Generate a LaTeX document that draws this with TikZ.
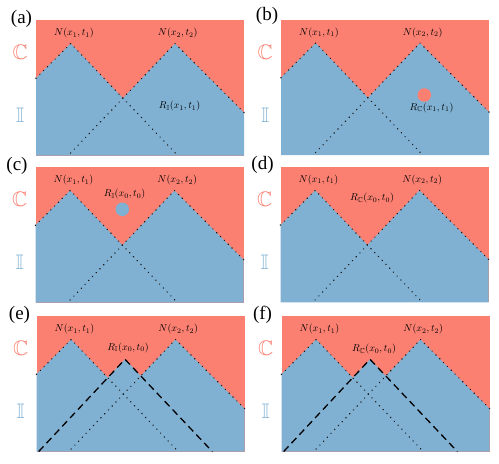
\documentclass[tikz,border=0pt]{standalone}
\usepackage{amssymb}
\usepackage{fontspec}
\newfontfamily\labfont{Liberation Serif}
\definecolor{cred}{HTML}{FB8072}
\definecolor{cblue}{HTML}{80B1D3}
\tikzset{
  dotline/.style={line width=1.6pt, dash pattern=on 0.01pt off 5.4pt, line cap=round, black!90},
  dashline/.style={line width=1.3pt, dash pattern=on 7pt off 4.5pt, black},
  mlab/.style={inner sep=0pt, font=\fontsize{10.3}{12}\selectfont},
  plab/.style={inner sep=0pt, font=\labfont\fontsize{19}{20}\selectfont},
  setC/.style={inner sep=0pt, text=cred, font=\fontsize{21}{22}\selectfont},
  setI/.style={inner sep=0pt, text=cblue, font=\fontsize{21}{22}\selectfont},
  spot/.style={circle, inner sep=0pt, minimum size=13.5pt},
}
\newcommand\panelbase[1]{%
  \coordinate (#1TL) at (0,0);
  \coordinate (#1BR) at (208,135.5);
  \coordinate (#1BL) at (0,135.5);
  \coordinate (#1P1) at (34.7,23.5);
  \coordinate (#1P2) at (139,23.5);
  \coordinate (#1L) at (0,58.2);
  \coordinate (#1R) at (208,92.5);
  \coordinate (#1B1) at (141.7,135.5);
  \coordinate (#1B2) at (32.3,135.5);
  \coordinate (#1V) at (intersection of #1P1--#1B1 and #1P2--#1B2);
  \fill[cred] (#1TL) rectangle (#1BR);
  \node[setC] (#1setC) at (-15.7,32.7) {$\mathbb{C}$};
  \node[setI] (#1setI) at (-15.7,95.5) {$\mathbb{I}$};
  \node[mlab] (#1N1) at (38,13) {$N(x_1,t_1)$};
  \node[mlab] (#1N2) at (141.7,13) {$N(x_2,t_2)$};
}
\newcommand\twocones[1]{%
  \fill[cblue] (#1L)--(#1P1)--(#1V)--(#1P2)--(#1R)--(#1BR)--(#1BL)--cycle;
  \draw[dotline] (#1L)--(#1P1)--(#1B1);
  \draw[dotline] (#1R)--(#1P2)--(#1B2);
}
\newcommand\threecones[1]{%
  \coordinate (#1P3) at (88.5,43.3);
  \coordinate (#1D1) at (2.2,135.5);
  \coordinate (#1D2) at (175.8,135.5);
  \coordinate (#1A) at (intersection of #1P1--#1B1 and #1D1--#1P3);
  \coordinate (#1C) at (intersection of #1P2--#1B2 and #1D2--#1P3);
  \fill[cblue] (#1L)--(#1P1)--(#1A)--(#1P3)--(#1C)--(#1P2)--(#1R)--(#1BR)--(#1BL)--cycle;
  \draw[dotline] (#1L)--(#1P1)--(#1B1);
  \draw[dotline] (#1R)--(#1P2)--(#1B2);
  \draw[dashline] (#1D1)--(#1P3)--(#1D2);
}
\begin{document}
\begin{tikzpicture}[x=1pt,y=-1pt]
\useasboundingbox (0,0) rectangle (499,464);
% (a)
\begin{scope}[shift={(36,20)}]
  \panelbase{a}
  \twocones{a}
  \node[plab] (alab) at (-14.5,-1.5) {(a)};
  \node[mlab] (aR) at (143.6,86) {$R_{\mathbb{I}}(x_1,t_1)$};
\end{scope}
% (b)
\begin{scope}[shift={(281,19.5)}]
  \panelbase{b}
  \twocones{b}
  \node[plab] (blab) at (-14,-4) {(b)};
  \node[spot, fill=cred] (bdot) at (143.3,75.5) {};
  \node[mlab] (bR) at (150.5,88) {$R_{\mathbb{C}}(x_1,t_1)$};
\end{scope}
% (c)
\begin{scope}[shift={(35.5,167)}]
  \panelbase{c}
  \twocones{c}
  \node[plab] (clab) at (-18.5,-1) {(c)};
  \node[mlab] (cR) at (89,27.3) {$R_{\mathbb{I}}(x_0,t_0)$};
  \node[spot, fill=cblue] (cdot) at (86.8,42.3) {};
\end{scope}
% (d)
\begin{scope}[shift={(280.5,166.8)}]
  \panelbase{d}
  \twocones{d}
  \node[plab] (dlab) at (-18,-2) {(d)};
  \node[mlab] (dR) at (91.5,31.3) {$R_{\mathbb{C}}(x_0,t_0)$};
\end{scope}
% (e)
\begin{scope}[shift={(36.5,316)}]
  \panelbase{e}
  \threecones{e}
  \node[plab] (elab) at (-17,-1) {(e)};
  \node[mlab] (eR) at (91.5,31.7) {$R_{\mathbb{I}}(x_0,t_0)$};
\end{scope}
% (f)
\begin{scope}[shift={(281.5,316)}]
  \panelbase{f}
  \threecones{f}
  \node[plab] (flab) at (-19,-1) {(f)};
  \node[mlab] (fR) at (92.5,33) {$R_{\mathbb{C}}(x_0,t_0)$};
\end{scope}
\end{tikzpicture}
\end{document}
